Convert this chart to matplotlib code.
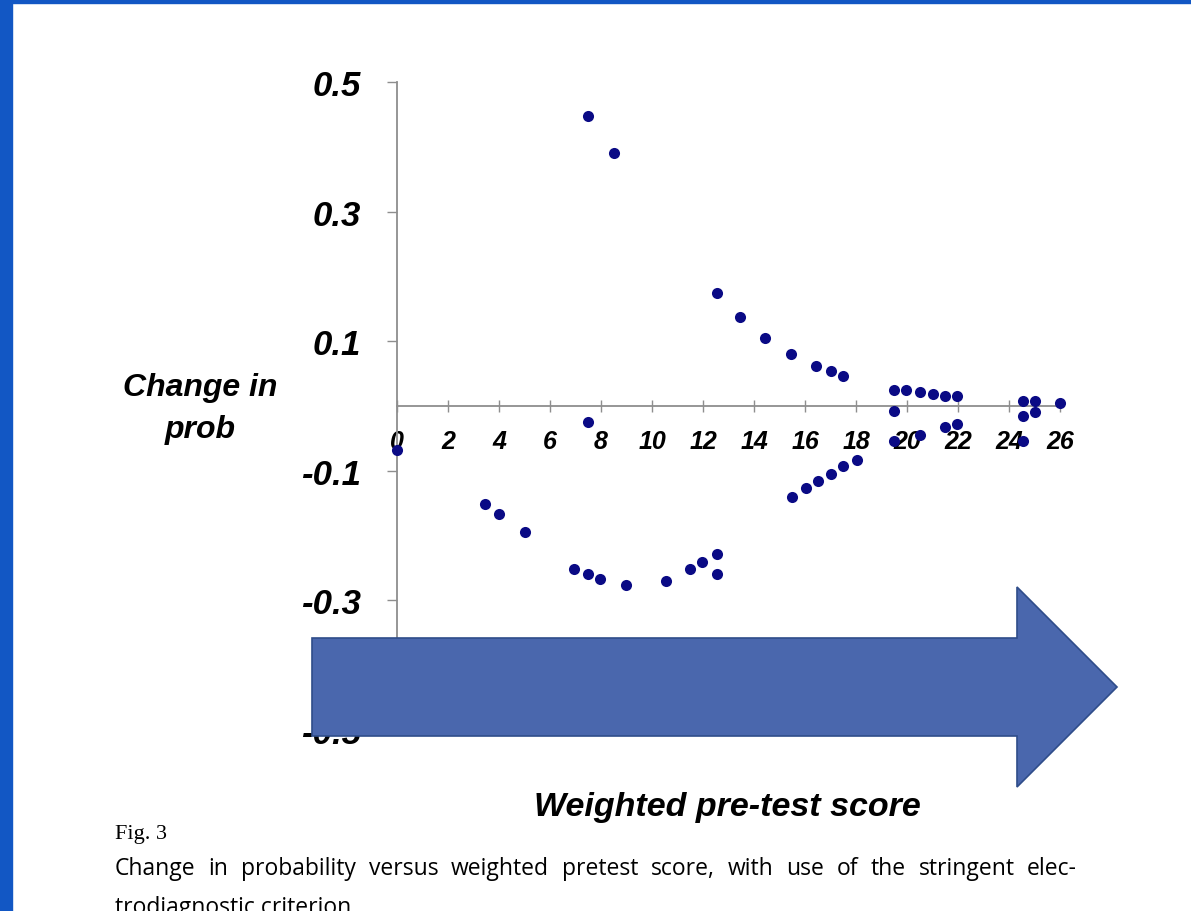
import matplotlib.pyplot as plt
from matplotlib.patches import Polygon, Rectangle

# weighted pre-test score vs change in probability
score = [0, 7.5, 3.46, 4.0, 5.0, 6.95, 7.5, 7.95, 8.97, 10.55, 11.5, 11.97, 12.55, 12.55,
         7.5, 8.5, 12.55, 13.45, 14.45, 15.45, 16.45, 17.0, 17.5,
         19.5, 19.95, 20.5, 21.0, 21.5, 21.95, 19.5, 24.55, 25.0, 26.0, 24.55, 25.0,
         21.5, 21.95, 20.5, 19.5, 24.55,
         18.05, 17.5, 17.0, 16.5, 16.05, 15.5]
change = [-0.068, -0.024, -0.151, -0.166, -0.194, -0.252, -0.259, -0.267, -0.277, -0.270,
          -0.252, -0.241, -0.229, -0.259,
          0.448, 0.390, 0.174, 0.137, 0.105, 0.080, 0.062, 0.054, 0.047,
          0.025, 0.025, 0.022, 0.019, 0.015, 0.015, -0.007, 0.008, 0.008, 0.004, -0.015, -0.010,
          -0.033, -0.028, -0.044, -0.054, -0.054,
          -0.083, -0.093, -0.105, -0.116, -0.126, -0.141]

xticks = list(range(0, 27, 2))
yticks = [0.5, 0.3, 0.1, -0.1, -0.3, -0.5]
ylabels = ["0.5", "0.3", "0.1", "-0.1", "-0.3", "-0.5"]

caption_1 = "Change in probability versus weighted pretest score, with use of the stringent elec-"
caption_2 = "trodiagnostic criterion"

W, H = 1191, 912
fig = plt.figure(figsize=(W / 100, H / 100), dpi=100)
plt.rcParams['font.family'] = ['Liberation Sans', 'DejaVu Sans']

ax = fig.add_axes([397 / W, 1 - 731 / H, 663 / W, 648 / H])
ax.scatter(score, change, s=64, color='#0A0A85', zorder=3, clip_on=False, linewidths=0)
ax.set_xlim(0, 26)
ax.set_ylim(-0.5, 0.5)

grey = '#8E8E8E'
for s in ['top', 'right']:
    ax.spines[s].set_visible(False)
ax.spines['bottom'].set_position(('data', 0))
ax.spines['bottom'].set_color(grey)
ax.spines['left'].set_color(grey)
ax.spines['bottom'].set_linewidth(1.3)
ax.spines['left'].set_linewidth(1.3)

ax.set_xticks(xticks)
ax.set_xticklabels([str(t) for t in xticks], fontsize=18, fontweight='bold', fontstyle='italic')
ax.set_yticks(yticks)
ax.set_yticklabels(ylabels, fontsize=25, fontweight='bold', fontstyle='italic')
ax.tick_params(axis='x', direction='inout', length=9, width=1, color=grey, pad=12)
ax.tick_params(axis='y', direction='out', length=7, width=1, color=grey, pad=19)

ax.set_ylabel("Change in\nprob", rotation=0, ha='center', va='center', fontsize=23,
              fontweight='bold', fontstyle='italic', linespacing=1.5)
ax.yaxis.set_label_coords(-0.297, 0.497)
ax.set_xlabel("Weighted pre-test score", fontsize=24.5, fontweight='bold', fontstyle='italic')
ax.xaxis.set_label_coords(0.499, -0.094)

# caption (first line justified like the journal text)
fig.text(115 / W, 1 - 839 / H, "Fig. 3", fontsize=16, family='Liberation Serif', va='baseline')
renderer = fig.canvas.get_renderer()
words = caption_1.split(' ')
wtexts = [fig.text(0, 1 - 875 / H, w, fontsize=16.5, family='Open Sans', va='baseline') for w in words]
widths = [t.get_window_extent(renderer).width for t in wtexts]
gap = (1077 - 115 - sum(widths)) / (len(words) - 1)
xpos = 115
for t, wd in zip(wtexts, widths):
    t.set_x(xpos / W)
    xpos += wd + gap
fig.text(115 / W, 1 - 914 / H, caption_2, fontsize=16.5, family='Open Sans', va='baseline')

# big arrow over the lower part
pts = [(312, 639), (1017, 639), (1017, 588), (1117, 688), (1017, 788), (1017, 737), (312, 737)]
arrow = Polygon([(px / W, 1 - py / H) for px, py in pts], closed=True, transform=fig.transFigure,
                facecolor='#4A67AD', edgecolor='#2F4D8A', linewidth=1.2, zorder=10)
fig.add_artist(arrow)

# slide border
border = '#1257C4'
fig.add_artist(Rectangle((0, 0), 12 / W, 1, transform=fig.transFigure, color=border, zorder=11))
fig.add_artist(Rectangle((0, 1 - 4 / H), 1, 4 / H, transform=fig.transFigure, color=border, zorder=11))

fig.savefig("out.png", dpi=100)
